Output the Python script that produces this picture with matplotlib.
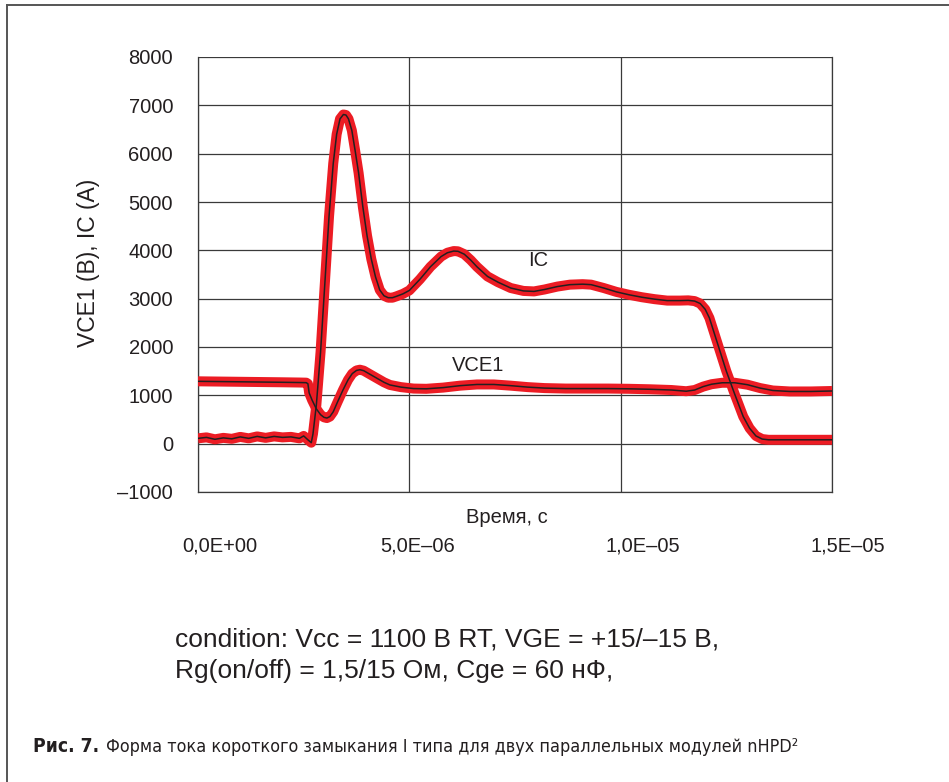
import numpy as np
import matplotlib
matplotlib.use("Agg")
import matplotlib.pyplot as plt
import matplotlib.transforms as mtransforms
from matplotlib.lines import Line2D

plt.rcParams['font.family'] = ['Liberation Sans', 'DejaVu Sans']

# time in microseconds, values in A / V
ic_t = [0.0, 0.2, 0.4, 0.6, 0.8, 1.0, 1.2, 1.4, 1.6, 1.8, 2.0, 2.2, 2.4, 2.5, 2.6,
        2.68, 2.72, 2.8, 2.9, 3.0, 3.1, 3.2, 3.28, 3.36, 3.44, 3.5, 3.56, 3.64, 3.72,
        3.8, 3.9, 4.0, 4.1, 4.2, 4.3, 4.4, 4.5, 4.6, 4.7, 4.85, 5.0, 5.25, 5.5, 5.75,
        5.9, 6.05, 6.15, 6.3, 6.45, 6.6, 6.85, 7.1, 7.4, 7.7, 7.95, 8.2, 8.5, 8.8,
        9.1, 9.3, 9.6, 9.9, 10.2, 10.5, 10.8, 11.1, 11.4, 11.6, 11.75, 11.88, 12.0,
        12.1, 12.3, 12.5, 12.7, 12.9, 13.05, 13.2, 13.35, 13.5, 14.0, 14.5, 15.0]
ic_val = [110, 130, 90, 120, 100, 140, 110, 150, 120, 150, 130, 140, 110, 160, 80,
          20, 200, 800, 1900, 3300, 4700, 5800, 6400, 6720, 6810, 6800, 6720, 6480, 6050,
          5600, 4900, 4300, 3820, 3450, 3180, 3060, 3020, 3020, 3050, 3100, 3170, 3400, 3660, 3870,
          3950, 3985, 3980, 3920, 3800, 3660, 3460, 3340, 3220, 3160, 3150, 3190, 3250, 3290,
          3300, 3290, 3220, 3140, 3080, 3030, 2990, 2960, 2960, 2965, 2950, 2900, 2780,
          2600, 2050, 1500, 1020, 560, 320, 160, 95, 80, 80, 80, 80]

vce_t = [0.0, 0.5, 1.0, 1.5, 2.0, 2.4, 2.56, 2.6, 2.63, 2.7, 2.8, 2.9, 2.98, 3.05, 3.12,
         3.2, 3.3, 3.43, 3.55, 3.65, 3.75, 3.83, 3.92, 4.02, 4.12, 4.22, 4.4, 4.54, 4.8,
         5.1, 5.4, 5.8, 6.2, 6.6, 7.0, 7.4, 7.8, 8.2, 8.7, 9.2, 9.7, 10.2, 10.7, 11.2,
         11.55, 11.75, 11.95, 12.15, 12.4, 12.7, 13.0, 13.3, 13.6, 14.0, 14.5, 15.0]
vce_val = [1290, 1285, 1280, 1275, 1270, 1265, 1262, 1240, 1050, 900, 720, 600, 545, 530, 560,
           660, 860, 1110, 1320, 1450, 1515, 1530, 1510, 1460, 1410, 1360, 1270, 1215, 1170,
           1140, 1135, 1160, 1200, 1225, 1225, 1200, 1170, 1150, 1140, 1140, 1140, 1135, 1125, 1110,
           1085, 1110, 1180, 1230, 1260, 1260, 1220, 1150, 1100, 1080, 1080, 1090]

x_ticks = [0.0, 5e-6, 1e-5, 1.5e-5]
x_tick_labels = ['0,0E+00', '5,0E\u201306', '1,0E\u201305', '1,5E\u201305']
y_ticks = list(range(-1000, 8001, 1000))
y_tick_labels = ['\u20131000'] + [str(v) for v in y_ticks[1:]]

red = '#ec1c24'
dark = '#231f20'

fig = plt.figure(figsize=(9.49, 7.82), dpi=100)
ax = fig.add_axes([198 / 949, 1 - 492 / 782, 634 / 949, 435 / 782])

ic_s = np.array(ic_t) * 1e-6
vce_s = np.array(vce_t) * 1e-6
for t, v in [(vce_s, vce_val), (ic_s, ic_val)]:
    ax.plot(t, v, color=red, lw=7.2, solid_capstyle='butt', solid_joinstyle='round', zorder=3)
    ax.plot(t, v, color=dark, lw=1.1, solid_joinstyle='round', zorder=4)

ax.set_xlim(0, 1.5e-5)
ax.set_ylim(-1000, 8000)
ax.set_xticks(x_ticks, labels=x_tick_labels)
ax.set_yticks(y_ticks, labels=y_tick_labels)
ax.grid(True, color='#3a3a3a', lw=0.9)
ax.set_axisbelow(True)
for sp in ax.spines.values():
    sp.set_color('#3a3a3a')
    sp.set_linewidth(0.9)
ax.spines['top'].set_visible(False)

ax.tick_params(axis='both', length=0, labelsize=14.5, colors='#231f20')
ax.tick_params(axis='x', pad=32)
ax.tick_params(axis='y', pad=18)

# Excel-style label placement: labels sit to the right of their grid lines
shifts = [22, 8, 22, 16]
for lab, dx in zip(ax.get_xticklabels(), shifts):
    lab.set_transform(lab.get_transform() + mtransforms.ScaledTranslation(dx / 100, 0, fig.dpi_scale_trans))

ax.set_xlabel('Время, с', fontsize=14.5, color='#231f20', va='center')
ax.xaxis.set_label_coords(0.487, -0.0575)
ax.set_ylabel('VCE1 (B), IC (A)', fontsize=16.5, color='#231f20', va='center')
ax.yaxis.set_label_coords(-0.172, 0.526)

ax.text(8.04e-6, 3782, 'IC', fontsize=14.5, ha='center', va='center', color='#231f20')
ax.text(6.62e-6, 1609, 'VCE1', fontsize=14.5, ha='center', va='center', color='#231f20')

fig.text(175 / 949, 1 - 640 / 782, 'condition: Vcc = 1100 В RT, VGE = +15/\u201315 В,',
         fontsize=19, ha='left', va='center', color='#231f20')
fig.text(175 / 949, 1 - 671 / 782, 'Rg(on/off) = 1,5/15 Ом, Cge = 60 нФ,',
         fontsize=19, ha='left', va='center', color='#231f20')

fig.text(33 / 949, 1 - 747 / 782, 'Рис. 7.', fontsize=13.8, fontweight='bold',
         fontstretch='condensed', family='DejaVu Sans', ha='left', va='center', color='#231f20')
fig.text(106 / 949, 1 - 747 / 782,
         'Форма тока короткого замыкания I типа для двух параллельных модулей nHPD\u00b2',
         fontsize=12.9, fontstretch='condensed', family='DejaVu Sans',
         ha='left', va='center', color='#231f20')

# page frame: top and left edges only
fig.add_artist(Line2D([7 / 949, 1], [1 - 5 / 782, 1 - 5 / 782], transform=fig.transFigure,
                      color='#555555', lw=1.4))
fig.add_artist(Line2D([7 / 949, 7 / 949], [0, 1 - 5 / 782], transform=fig.transFigure,
                      color='#555555', lw=1.4))

fig.savefig('out.png', dpi=100)
